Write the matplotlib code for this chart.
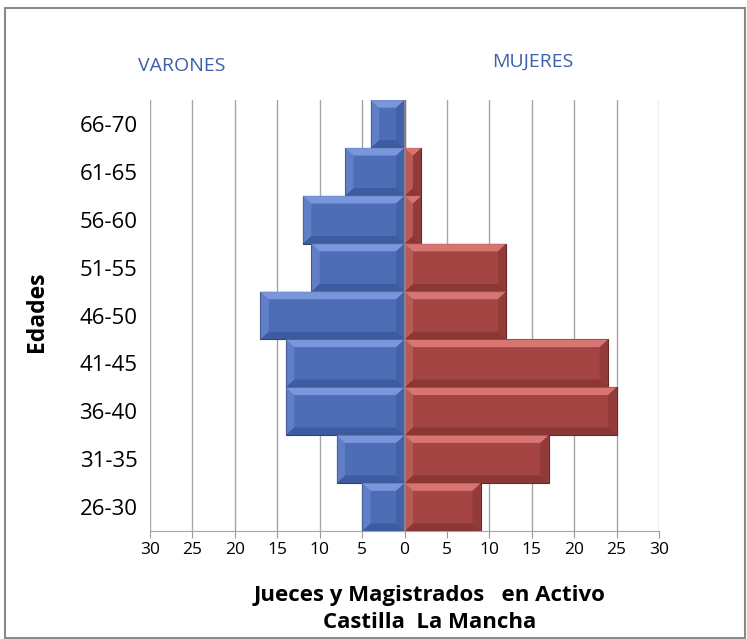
import matplotlib
matplotlib.use("Agg")
import matplotlib.pyplot as plt
from matplotlib.patches import Polygon, Rectangle

ages = ["26-30", "31-35", "36-40", "41-45", "46-50", "51-55", "56-60", "61-65", "66-70"]
varones = [5, 8, 14, 14, 17, 11, 12, 7, 4]
mujeres = [9, 17, 25, 24, 12, 12, 2, 2, 0]
xticks = [-30, -25, -20, -15, -10, -5, 0, 5, 10, 15, 20, 25, 30]
xticklabels = ["30", "25", "20", "15", "10", "5", "0", "5", "10", "15", "20", "25", "30"]

FONT = ["Open Sans", "DejaVu Sans"]
plt.rcParams["font.family"] = FONT

W, H = 747, 639
fig = plt.figure(figsize=(W / 100, H / 100), dpi=100)
fig.patch.set_facecolor("white")
# outer border
fig.add_artist(Rectangle((5 / W, 1 - 638 / H), 740 / W, 630 / H, transform=fig.transFigure,
                         fill=False, edgecolor="#8a8a8a", linewidth=1.5))

ax = fig.add_axes([150 / W, 1 - 531 / H, 509 / W, 431 / H])
ax.set_xlim(-30, 30)
ax.set_ylim(-0.5, len(ages) - 0.5)

blue = "#4e6db7"
blue_l = "#86a2e6"
blue_d = "#34508f"
red = "#a44543"
red_l = "#e58280"
red_d = "#7a2e2d"

y = list(range(len(ages)))
neg_v = [-v for v in varones]
bv = ax.barh(y, neg_v, height=1.0, color=blue, edgecolor="#2e4373", linewidth=0.8, zorder=3)
bm = ax.barh(y, mujeres, height=1.0, color=red, edgecolor="#6a2726", linewidth=0.8, zorder=3)

# bevel effect
bx = 1.0   # data units in x
by = 0.16  # data units in y
for bars, light, dark in ((bv, blue_l, blue_d), (bm, red_l, red_d)):
    for r in bars:
        x0 = r.get_x(); w = r.get_width(); y0 = r.get_y(); h = r.get_height()
        if w == 0:
            continue
        xl, xr = min(x0, x0 + w), max(x0, x0 + w)
        yb, yt = y0, y0 + h
        ex = min(bx, (xr - xl) / 2)
        top = Polygon([(xl, yt), (xr, yt), (xr - ex, yt - by), (xl + ex, yt - by)],
                      closed=True, facecolor=light, edgecolor="none", alpha=0.8, zorder=4)
        bot = Polygon([(xl, yb), (xr, yb), (xr - ex, yb + by), (xl + ex, yb + by)],
                      closed=True, facecolor=dark, edgecolor="none", alpha=0.6, zorder=4)
        rgt = Polygon([(xr, yb), (xr, yt), (xr - ex, yt - by), (xr - ex, yb + by)],
                      closed=True, facecolor=dark, edgecolor="none", alpha=0.4, zorder=4)
        lft = Polygon([(xl, yb), (xl, yt), (xl + ex, yt - by), (xl + ex, yb + by)],
                      closed=True, facecolor=light, edgecolor="none", alpha=0.35, zorder=4)
        for p in (top, bot, rgt, lft):
            ax.add_patch(p)

ax.set_xticks(xticks)
ax.set_xticklabels(xticklabels, fontsize=12.5)
ax.set_yticks(y)
ax.set_yticklabels(ages, fontsize=16)
ax.tick_params(axis="y", length=0, pad=9)
ax.tick_params(axis="x", length=5, color="#999999", pad=3)
ax.xaxis.grid(True, color="#a6a6a6", linewidth=1.0, zorder=0)
ax.set_axisbelow(True)
ax.axvline(0, color="#8c8c8c", linewidth=1.2, zorder=5)
for s in ("top", "right", "left"):
    ax.spines[s].set_visible(False)
ax.spines["bottom"].set_color("#a6a6a6")

fig.text(37 / W, 1 - 312 / H, "Edades", fontsize=16.5, fontweight="bold", rotation=90,
         ha="center", va="center")
fig.text(430 / W, 1 - 595 / H, "Jueces y Magistrados   en Activo", fontsize=16,
         fontweight="bold", ha="center", va="center")
fig.text(430 / W, 1 - 623 / H, "Castilla  La Mancha", fontsize=16,
         fontweight="bold", ha="center", va="center")

fig.text(182 / W, 1 - 66 / H, "VARONES", color="#3d5fa8", fontsize=14, ha="center", va="center")
fig.text(533 / W, 1 - 62 / H, "MUJERES", color="#3d5fa8", fontsize=14, ha="center", va="center")

fig.savefig("out.png", dpi=100)
